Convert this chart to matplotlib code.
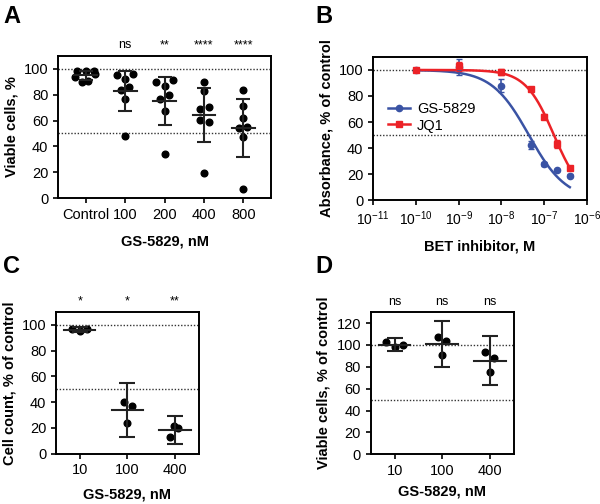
import numpy as np
import matplotlib
matplotlib.use("Agg")
import matplotlib.pyplot as plt
from matplotlib.ticker import NullLocator, FixedLocator

plt.rcParams['font.family'] = ['Liberation Sans', 'DejaVu Sans']
plt.rcParams['font.size'] = 10
plt.rcParams['axes.linewidth'] = 1.4
plt.rcParams['xtick.major.width'] = 1.2
plt.rcParams['ytick.major.width'] = 1.2
plt.rcParams['xtick.major.size'] = 3.5
plt.rcParams['ytick.major.size'] = 3.5

# ---- panel A: viable cells, % ----
a_labels = ["Control", "100", "200", "400", "800"]
a_values = [
    [98.4, 98.4, 98.4, 93.8, 89.9, 90.7, 96.4],
    [95.1, 92.5, 96.4, 84.0, 85.6, 77.0, 47.8],
    [89.9, 86.6, 91.7, 76.5, 80.1, 67.2, 34.4],
    [89.9, 83.0, 69.3, 70.5, 60.2, 59.0, 19.7],
    [84.0, 71.1, 62.0, 54.3, 55.0, 47.0, 6.7],
]
a_jitter = [
    [-0.23, 0.0, 0.21, -0.27, -0.10, 0.07, 0.25],
    [-0.21, 0.0, 0.21, -0.10, 0.10, 0.0, 0.0],
    [-0.22, 0.0, 0.21, -0.11, 0.12, 0.0, 0.0],
    [0.0, 0.0, -0.11, 0.12, -0.11, 0.12, 0.0],
    [0.0, 0.0, 0.0, -0.11, 0.10, 0.0, 0.0],
]
a_sig = ["", "ns", "**", "****", "****"]

# ---- panel B: dose response ----
b_conc = [1e-10, 1e-9, 1e-8, 5e-8, 1e-7, 2e-7, 4e-7]
gs_abs = [100, 102.5, 88, 42.5, 27.7, 23, 18.7]
gs_err = [0.5, 6, 5, 3, 1.5, 1, 1]
jq_abs = [100, 103, 98.5, 85, 64, 42.8, 24.9]
jq_err = [0.5, 3.5, 2.5, 1.5, 2, 3, 1.5]
# fitted 4-parameter logistic curves (top, bottom, IC50, hill)
gs_fit = (100, 0, 4.4e-8, 1.0)
jq_fit = (100, 0, 1.7e-7, 1.3)

# ---- panel C: cell count ----
c_labels = ["10", "100", "400"]
c_values = [
    [96.7, 95.3, 96.7],
    [39.8, 37.2, 24.0],
    [21.5, 19.7, 13.2],
]
c_jitter = [[-0.17, 0.0, 0.15], [-0.08, 0.09, 0.0], [-0.03, 0.07, -0.11]]
c_sig = ["*", "*", "**"]

# ---- panel D: viable cells, % of control ----
d_labels = ["10", "100", "400"]
d_values = [
    [103.0, 98.5, 99.8],
    [107.3, 103.4, 91.0],
    [93.4, 88.0, 75.6],
]
d_jitter = [[-0.18, 0.0, 0.17], [-0.09, 0.08, 0.0], [-0.10, 0.08, 0.0]]
d_sig = ["ns", "ns", "ns"]

# t(0.975) for 95% CI
T975 = {2: 4.303, 6: 2.447}
DOT = (0, (1, 1.3))


def scatter_panel(ax, labels, values, jitter, sig, ylim, yticks, halfw, cap, pad):
    for i, (vals, jit) in enumerate(zip(values, jitter)):
        vals = np.array(vals)
        x = i + np.array(jit)
        ax.plot(x, vals, 'o', color='black', ms=4.8, zorder=3, clip_on=False)
        m = vals.mean()
        n = len(vals)
        ci = T975[n - 1] * vals.std(ddof=1) / np.sqrt(n)
        ax.plot([i - halfw, i + halfw], [m, m], color='#222222', lw=1.5, zorder=4)
        ax.errorbar(i, m, yerr=ci, fmt='none', ecolor='#222222',
                    elinewidth=1.5, capsize=cap, capthick=1.5, zorder=4)
        if sig[i]:
            ax.text(i, 1.075, sig[i], transform=ax.get_xaxis_transform(),
                    ha='center', va='center', fontsize=9)
    for yl in (100, 50):
        ax.axhline(yl, color='#333333', ls=DOT, lw=1.0, zorder=1)
    ax.set_xlim(-0.5 - pad, len(labels) - 0.5 + pad)
    ax.set_ylim(*ylim)
    ax.set_yticks(yticks)
    ax.set_xticks(range(len(labels)))
    ax.set_xticklabels(labels)
    ax.tick_params(labelsize=10.5)


LBL = dict(fontweight='bold', fontsize=10.5)

fig = plt.figure(figsize=(6, 5.04), dpi=100)

axA = fig.add_axes([0.0967, 0.607, 0.355, 0.282])
scatter_panel(axA, a_labels, a_values, a_jitter, a_sig, (0, 110),
              [0, 20, 40, 60, 80, 100], 0.29, 5, 0.2)
axA.set_ylabel("Viable cells, %", **LBL)
axA.set_xlabel("GS-5829, nM", labelpad=9, **LBL)

axB = fig.add_axes([0.622, 0.603, 0.356, 0.284])
xx = np.logspace(-10, np.log10(4e-7), 300)
for vals, err, fit, col, mk, lab in [
        (gs_abs, gs_err, gs_fit, '#3a53a4', 'o', 'GS-5829'),
        (jq_abs, jq_err, jq_fit, '#ec2227', 's', 'JQ1')]:
    top, bot, ic50, h = fit
    yy = bot + (top - bot) / (1 + (xx / ic50) ** h)
    axB.plot(xx, yy, color=col, lw=1.8, zorder=3)
    axB.errorbar(b_conc, vals, yerr=err, fmt=mk, color=col, ms=4.5,
                 capsize=2.5, elinewidth=1.2, zorder=4)
    axB.plot([], [], color=col, marker=mk, ms=4.5, lw=1.8, label=lab)
for yl in (100, 50):
    axB.axhline(yl, color='#333333', ls=DOT, lw=1.0, zorder=1)
axB.set_xscale('log')
axB.set_xlim(1e-11, 1e-6)
axB.xaxis.set_major_locator(FixedLocator([1e-11, 1e-10, 1e-9, 1e-8, 1e-7, 1e-6]))
axB.xaxis.set_minor_locator(NullLocator())
axB.set_ylim(0, 110)
axB.set_yticks([0, 20, 40, 60, 80, 100])
axB.tick_params(axis='y', labelsize=10.5)
axB.tick_params(axis='x', labelsize=10)
axB.set_ylabel("Absorbance, % of control", **LBL)
axB.set_xlabel("BET inhibitor, M", labelpad=8, **LBL)
axB.legend(loc='center left', bbox_to_anchor=(0.02, 0.58), frameon=False,
           fontsize=10.5, handlelength=1.5, handletextpad=0.5,
           labelspacing=0.2, borderpad=0.2)

axC = fig.add_axes([0.0933, 0.0998, 0.238, 0.281])
scatter_panel(axC, c_labels, c_values, c_jitter, c_sig, (0, 110),
              [0, 20, 40, 60, 80, 100], 0.33, 6, 0.0)
axC.set_ylabel("Cell count, % of control", **LBL)
axC.set_xlabel("GS-5829, nM", labelpad=7, **LBL)

axD = fig.add_axes([0.618, 0.0986, 0.238, 0.282])
scatter_panel(axD, d_labels, d_values, d_jitter, d_sig, (0, 130),
              [0, 20, 40, 60, 80, 100, 120], 0.33, 6, 0.0)
axD.set_ylabel("Viable cells, % of control", **LBL)
axD.set_xlabel("GS-5829, nM", labelpad=5, **LBL)

for lab, x, y in [("A", 0.005, 0.99), ("B", 0.525, 0.99),
                  ("C", 0.005, 0.495), ("D", 0.525, 0.495)]:
    fig.text(x, y, lab, fontsize=17, fontweight='bold', va='top', ha='left')

fig.savefig("out.png", dpi=100)
